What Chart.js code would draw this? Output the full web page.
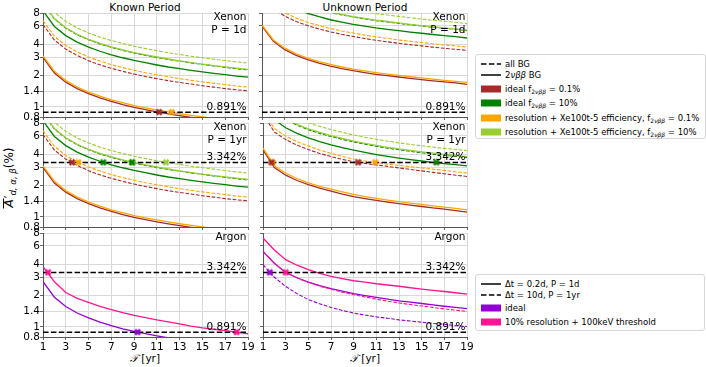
<!DOCTYPE html>
<html>
<head>
<meta charset="utf-8">
<script src="https://cdn.jsdelivr.net/npm/chart.js@4.4.1/dist/chart.umd.min.js"></script>
<style>
  body { margin: 0; width: 706px; height: 367px; position: relative; overflow: hidden; background: #fff;
         font-family: 'DejaVu Sans', sans-serif; color: #000; }
  canvas { position: absolute; }
  .txt { position: absolute; font-size: 10.5px; white-space: nowrap; line-height: 1; }
  .legend { position: absolute; background: #fff; border: 1px solid #d6d6d6; border-radius: 3px; font-size: 8.5px; }
  .legend .row { position: absolute; left: 0; height: 12px; white-space: nowrap; }
  .legend .row svg { position: absolute; left: 4px; top: 2px; }
  .legend .row span { position: absolute; left: 29px; top: 0; line-height: 12px; }
  .legend sub { font-size: 6px; vertical-align: -2px; line-height: 0; }
  .ylab { position: absolute; font-size: 12px; white-space: nowrap; transform: translate(-50%, -50%) rotate(-90deg);
          left: 10px; top: 178px; }
  .ylab sub { font-size: 8.5px; font-style: italic; vertical-align: -3px; }
  .ov { font-style: italic; display: inline-block; border-top: 1px solid #000; line-height: 11px; padding: 0 1px; }
</style>
</head>
<body>

<div class="txt" style="left:145px; top:2px; transform:translateX(-50%)">Known Period</div>
<div class="txt" style="left:365px; top:2px; transform:translateX(-50%)">Unknown Period</div>
<div class="ylab"><span class="ov">A</span>′<sub>d, α, β</sub>(%)</div>
<div class="txt" style="left:145px; top:353px; transform:translateX(-50%)"><span style="font-family:'DejaVu Serif',serif;font-style:italic">𝒯</span> [yr]</div>
<div class="txt" style="left:365px; top:353px; transform:translateX(-50%)"><span style="font-family:'DejaVu Serif',serif;font-style:italic">𝒯</span> [yr]</div>

<div class="legend" style="left:475px; top:54px; width:229px; height:83px">
  <div class="row" style="top:3px"><svg width="22" height="8"><line x1="1" y1="4" x2="21" y2="4" stroke="#000" stroke-width="1.5" stroke-dasharray="5.5,2.4"/></svg><span>all BG</span></div>
  <div class="row" style="top:14px"><svg width="22" height="8"><line x1="1" y1="4" x2="21" y2="4" stroke="#000" stroke-width="1.5"/></svg><span>2<i>νββ</i> BG</span></div>
  <div class="row" style="top:28px"><svg width="22" height="8"><rect x="1" y="0.5" width="20" height="7" fill="#a52a2a"/></svg><span>ideal f<sub>2<i>νββ</i></sub> = 0.1%</span></div>
  <div class="row" style="top:42px"><svg width="22" height="8"><rect x="1" y="0.5" width="20" height="7" fill="#008000"/></svg><span>ideal f<sub>2<i>νββ</i></sub> = 10%</span></div>
  <div class="row" style="top:57px"><svg width="22" height="8"><rect x="1" y="0.5" width="20" height="7" fill="#ffa500"/></svg><span>resolution + Xe100t-5 efficiency, f<sub>2<i>νββ</i></sub> = 0.1%</span></div>
  <div class="row" style="top:71px"><svg width="22" height="8"><rect x="1" y="0.5" width="20" height="7" fill="#9acd32"/></svg><span>resolution + Xe100t-5 efficiency, f<sub>2<i>νββ</i></sub> = 10%</span></div>
</div>

<div class="legend" style="left:475px; top:274px; width:228px; height:55px">
  <div class="row" style="top:3px"><svg width="22" height="8"><line x1="1" y1="4" x2="21" y2="4" stroke="#000" stroke-width="1.5"/></svg><span>Δt = 0.2d, P = 1d</span></div>
  <div class="row" style="top:14px"><svg width="22" height="8"><line x1="1" y1="4" x2="21" y2="4" stroke="#000" stroke-width="1.5" stroke-dasharray="5.5,2.4"/></svg><span>Δt = 10d, P = 1yr</span></div>
  <div class="row" style="top:27px"><svg width="22" height="8"><rect x="1" y="0.5" width="20" height="7" fill="#9400d3"/></svg><span>ideal</span></div>
  <div class="row" style="top:41px"><svg width="22" height="8"><rect x="1" y="0.5" width="20" height="7" fill="#ff1493"/></svg><span>10% resolution + 100keV threshold</span></div>
</div>

<script>
// exposure time T [yr] and axis ticks
const T = [1, 2, 3, 4, 5, 6, 7, 8, 9, 10, 11, 12, 13, 14, 15, 16, 17, 18, 19];
const xTicks = [1, 3, 5, 7, 9, 11, 13, 15, 17, 19];
const yTicks = [0.8, 1, 1.4, 2, 3, 4, 6, 8];
const limDay = 0.891;   // P = 1d
const limYear = 3.342;  // P = 1yr

// Xenon, known period (P = 1d and P = 1yr look the same)
const knRed2nbb    = [3.00, 2.12, 1.73, 1.50, 1.34, 1.22, 1.13, 1.05, 0.99, 0.94, 0.895, 0.857, 0.823, 0.794, 0.767, 0.743, 0.72, 0.70, 0.68];
const knOrange2nbb = [3.10, 2.20, 1.79, 1.55, 1.39, 1.27, 1.17, 1.10, 1.03, 0.98, 0.935, 0.895, 0.86, 0.83, 0.80, 0.775, 0.752, 0.73, 0.71];
const knRedAll     = [6.20, 4.40, 3.60, 3.12, 2.78, 2.54, 2.35, 2.20, 2.07, 1.96, 1.87, 1.79, 1.72, 1.66, 1.60, 1.55, 1.50, 1.46, 1.43];
const knOrangeAll  = [6.75, 4.78, 3.90, 3.38, 3.02, 2.76, 2.55, 2.39, 2.25, 2.13, 2.04, 1.95, 1.87, 1.80, 1.74, 1.69, 1.64, 1.59, 1.55];
const knGreen2nbb  = [8.40, 5.94, 4.85, 4.20, 3.76, 3.43, 3.17, 2.97, 2.80, 2.66, 2.53, 2.42, 2.33, 2.25, 2.17, 2.10, 2.04, 1.98, 1.93];
const knGreenAll   = [9.90, 7.00, 5.72, 4.95, 4.43, 4.04, 3.74, 3.50, 3.30, 3.13, 2.98, 2.86, 2.75, 2.65, 2.56, 2.48, 2.40, 2.33, 2.27];
const knLime2nbb   = [10.0, 7.07, 5.77, 5.00, 4.47, 4.08, 3.78, 3.54, 3.33, 3.16, 3.02, 2.89, 2.77, 2.67, 2.58, 2.50, 2.43, 2.36, 2.30];
const knLimeAll    = [11.5, 8.13, 6.64, 5.75, 5.14, 4.69, 4.35, 4.07, 3.83, 3.64, 3.47, 3.32, 3.19, 3.07, 2.97, 2.88, 2.79, 2.71, 2.64];

// Xenon, unknown period, P = 1d
const u1Red2nbb    = [5.96, 4.27, 3.55, 3.13, 2.85, 2.64, 2.47, 2.34, 2.23, 2.14, 2.06, 2.00, 1.94, 1.88, 1.83, 1.78, 1.74, 1.70, 1.65];
const u1Orange2nbb = [6.12, 4.40, 3.67, 3.24, 2.95, 2.73, 2.56, 2.42, 2.31, 2.22, 2.14, 2.07, 2.01, 1.95, 1.90, 1.85, 1.80, 1.76, 1.72];
const u1RedAll     = [11.7, 8.8, 7.46, 6.63, 6.05, 5.62, 5.27, 4.99, 4.76, 4.55, 4.38, 4.23, 4.09, 3.97, 3.86, 3.76, 3.66, 3.58, 3.50];
const u1OrangeAll  = [12.6, 9.5, 8.03, 7.14, 6.52, 6.05, 5.68, 5.37, 5.13, 4.90, 4.72, 4.56, 4.40, 4.28, 4.16, 4.05, 3.94, 3.86, 3.77];
const u1Green2nbb  = [16.6, 11.9, 9.9, 8.73, 7.95, 7.37, 6.89, 6.53, 6.22, 5.97, 5.75, 5.58, 5.41, 5.25, 5.11, 4.97, 4.85, 4.74, 4.60];
const u1GreenAll   = [19.5, 14.0, 11.6, 10.3, 9.35, 8.66, 8.10, 7.68, 7.31, 7.02, 6.76, 6.56, 6.36, 6.17, 6.00, 5.84, 5.71, 5.58, 5.41];
const u1Lime2nbb   = [19.7, 14.1, 11.7, 10.4, 9.44, 8.74, 8.18, 7.75, 7.38, 7.09, 6.83, 6.63, 6.42, 6.23, 6.06, 5.90, 5.76, 5.63, 5.47];
const u1LimeAll    = [22.8, 16.4, 13.6, 12.0, 10.9, 10.1, 9.46, 8.96, 8.54, 8.20, 7.89, 7.66, 7.43, 7.20, 7.01, 6.82, 6.66, 6.51, 6.32];

// Xenon, unknown period, P = 1yr
const u2Red2nbb    = [4.43, 2.98, 2.52, 2.24, 2.04, 1.89, 1.77, 1.66, 1.57, 1.50, 1.44, 1.39, 1.34, 1.30, 1.26, 1.22, 1.19, 1.15, 1.11];
const u2Orange2nbb = [4.60, 3.11, 2.63, 2.34, 2.13, 1.97, 1.85, 1.74, 1.65, 1.57, 1.51, 1.45, 1.40, 1.36, 1.32, 1.28, 1.24, 1.21, 1.17];
const u2RedAll     = [9.75, 6.56, 5.54, 4.90, 4.44, 4.08, 3.80, 3.58, 3.39, 3.27, 3.16, 3.06, 2.96, 2.86, 2.77, 2.68, 2.60, 2.52, 2.45];
const u2OrangeAll  = [10.5, 7.08, 5.98, 5.30, 4.80, 4.40, 4.08, 3.82, 3.60, 3.45, 3.32, 3.22, 3.13, 3.04, 2.96, 2.88, 2.80, 2.72, 2.64];
const u2Green2nbb  = [12.4, 8.6, 7.2, 6.35, 5.75, 5.30, 4.94, 4.64, 4.38, 4.17, 3.98, 3.82, 3.68, 3.56, 3.45, 3.35, 3.26, 3.18, 3.10];
const u2GreenAll   = [14.9, 10.3, 8.64, 7.62, 6.90, 6.36, 5.93, 5.57, 5.26, 5.00, 4.78, 4.58, 4.42, 4.27, 4.14, 4.02, 3.91, 3.82, 3.72];
const u2Lime2nbb   = [15.2, 10.5, 8.8, 7.77, 7.04, 6.49, 6.05, 5.68, 5.36, 5.10, 4.88, 4.67, 4.51, 4.36, 4.22, 4.10, 3.99, 3.90, 3.80];
const u2LimeAll    = [17.4, 12.0, 10.1, 8.9, 8.05, 7.42, 6.92, 6.50, 6.13, 5.84, 5.57, 5.35, 5.15, 4.98, 4.83, 4.69, 4.56, 4.45, 4.34];

// Argon
const arKnViolet    = [2.72, 1.93, 1.57, 1.36, 1.22, 1.11, 1.03, 0.96, 0.905, 0.86, 0.82, 0.785, 0.755, 0.727, 0.702, 0.68, 0.66, 0.64, 0.625];
const arKnPink      = [3.80, 2.72, 2.14, 1.88, 1.72, 1.58, 1.47, 1.37, 1.29, 1.23, 1.17, 1.12, 1.07, 1.02, 0.98, 0.95, 0.92, 0.89, 0.86];
const arUnPink1d    = [7.16, 5.5, 4.43, 3.92, 3.55, 3.28, 3.06, 2.91, 2.78, 2.69, 2.60, 2.53, 2.46, 2.38, 2.31, 2.25, 2.19, 2.13, 2.07];
const arUnViolet1d  = [5.3, 4.1, 3.34, 2.97, 2.70, 2.50, 2.34, 2.21, 2.09, 2.00, 1.92, 1.85, 1.78, 1.73, 1.68, 1.63, 1.58, 1.54, 1.50];
const arUnPink1yr   = [5.35, 4.1, 3.34, 2.96, 2.68, 2.47, 2.30, 2.16, 2.04, 1.94, 1.85, 1.77, 1.70, 1.64, 1.59, 1.54, 1.49, 1.45, 1.41];
const arUnViolet1yr = [3.97, 3.0, 2.45, 2.09, 1.83, 1.67, 1.54, 1.44, 1.36, 1.30, 1.25, 1.21, 1.17, 1.14, 1.11, 1.08, 1.06, 1.03, 1.01];

// where the curves reach the limit (T values)
const crossKn1d   = { red: [11.2], orange: [12.3] };
const crossKn1yr  = { red: [3.55], orange: [4.1], green: [6.3, 8.8], lime: [8.9, 11.8] };
const crossUn1yr  = { red: [1.75, 9.4], orange: [1.85, 10.9], green: [16.3] };
const crossArKnYr = { pink: [1.45] };
const crossArKnDay = { violet: [9.3], pink: [18.0] };
const crossArUnYr = { violet: [1.6], pink: [3.0] };

const col = { red: '#a52a2a', green: '#008000', orange: '#ffa500', lime: '#9acd32', violet: '#9400d3', pink: '#ff1493' };

Chart.defaults.font.family = "'DejaVu Sans', sans-serif";
Chart.defaults.font.size = 10.5;
Chart.defaults.color = '#000';

function xMarker(color) {
    const c = document.createElement('canvas');
    c.width = 8; c.height = 8;
    const g = c.getContext('2d');
    g.strokeStyle = color;
    g.lineWidth = 2.6;
    g.beginPath();
    g.moveTo(1.5, 1.5); g.lineTo(6.5, 6.5);
    g.moveTo(6.5, 1.5); g.lineTo(1.5, 6.5);
    g.stroke();
    return c;
}

function curve(vals, color, dashed, order) {
    return {
        type: 'line',
        data: T.map((t, i) => ({ x: t, y: vals[i] })),
        borderColor: color,
        borderWidth: dashed ? 1.1 : 1.3,
        borderDash: dashed ? [3.7, 1.6] : [],
        pointRadius: 0,
        tension: 0,
        fill: false,
        order: order,
    };
}

function limitLine(v) {
    return {
        type: 'line',
        data: [{ x: 1, y: v }, { x: 19, y: v }],
        borderColor: '#000',
        borderWidth: 1.5,
        borderDash: [5.5, 2.4],
        pointRadius: 0,
        order: 2,
    };
}

function crossings(obj, v) {
    return Object.keys(obj).map(k => ({
        type: 'scatter',
        data: obj[k].map(t => ({ x: t, y: v })),
        pointStyle: xMarker(col[k]),
        pointRadius: 3,
        order: 0,
    }));
}

// text inside each panel
const panelText = {
    id: 'panelText',
    afterDatasetsDraw(chart, args, opts) {
        const { ctx, chartArea: a } = chart;
        const y = chart.scales.y;
        ctx.save();
        ctx.font = "10.5px 'DejaVu Sans'";
        ctx.fillStyle = '#000';
        ctx.textAlign = 'right';
        ctx.textBaseline = 'middle';
        opts.title.forEach((s, i) => ctx.fillText(s, a.right - 1.5, a.top + 4.5 + i * 13));
        ctx.textBaseline = 'alphabetic';
        opts.limits.forEach(v => ctx.fillText(v.toFixed(3) + '%', a.right - 1.5, y.getPixelForValue(v) - 2));
        ctx.restore();
    }
};

function noPad(s) {
    s.paddingLeft = 0; s.paddingRight = 0; s.paddingTop = 0; s.paddingBottom = 0;
}

// one subplot: column 0/1, row 0/1/2
function panel(c, r, datasets, title, limits) {
    const plotLeft = c === 0 ? 43 : 262;
    const plotTop = [13, 123, 233][r];
    const yW = c === 0 ? 43 : 4;
    const xH = r === 2 ? 22 : 8;
    const canvas = document.createElement('canvas');
    canvas.width = yW + 205 + 8;
    canvas.height = 8 + 104 + xH;
    canvas.style.left = (plotLeft - yW) + 'px';
    canvas.style.top = (plotTop - 8) + 'px';
    document.body.appendChild(canvas);

    new Chart(canvas.getContext('2d'), {
        type: 'line',
        data: { datasets: datasets },
        options: {
            responsive: false,
            animation: false,
            devicePixelRatio: 1,
            layout: { padding: { top: 8, right: 8, left: 0, bottom: 0 } },
            plugins: {
                legend: { display: false },
                tooltip: { enabled: false },
                panelText: { title: title, limits: limits },
            },
            scales: {
                x: {
                    type: 'linear', min: 1, max: 19,
                    afterBuildTicks: s => { s.ticks = xTicks.map(v => ({ value: v })); },
                    afterFit: s => { s.height = xH; noPad(s); },
                    ticks: { display: r === 2, autoSkip: false, maxRotation: 0, padding: 1, callback: v => String(v) },
                    grid: { color: '#d9d9d9', tickLength: 3, tickColor: '#666' },
                    border: { color: '#555' },
                },
                y: {
                    type: 'logarithmic', min: 0.8, max: 8,
                    afterBuildTicks: s => { s.ticks = yTicks.map(v => ({ value: v })); },
                    afterFit: s => { s.width = yW; noPad(s); },
                    ticks: { display: c === 0, autoSkip: false, padding: 0, callback: v => String(v) },
                    grid: { color: '#d9d9d9', tickLength: 3, tickColor: '#666' },
                    border: { color: '#555' },
                },
            },
        },
        plugins: [panelText],
    });
}

function xenonSet(red2, redAll, orange2, orangeAll, green2, greenAll, lime2, limeAll) {
    return [
        curve(lime2, col.lime, false, 3), curve(limeAll, col.lime, true, 3),
        curve(orange2, col.orange, false, 4), curve(orangeAll, col.orange, true, 4),
        curve(green2, col.green, false, 5), curve(greenAll, col.green, true, 5),
        curve(red2, col.red, false, 6), curve(redAll, col.red, true, 6),
    ];
}

// Xenon P = 1d
panel(0, 0, [...crossings(crossKn1d, limDay), limitLine(limDay),
    ...xenonSet(knRed2nbb, knRedAll, knOrange2nbb, knOrangeAll, knGreen2nbb, knGreenAll, knLime2nbb, knLimeAll)],
    ['Xenon', 'P = 1d'], [limDay]);
panel(1, 0, [limitLine(limDay),
    ...xenonSet(u1Red2nbb, u1RedAll, u1Orange2nbb, u1OrangeAll, u1Green2nbb, u1GreenAll, u1Lime2nbb, u1LimeAll)],
    ['Xenon', 'P = 1d'], [limDay]);

// Xenon P = 1yr
panel(0, 1, [...crossings(crossKn1yr, limYear), limitLine(limYear),
    ...xenonSet(knRed2nbb, knRedAll, knOrange2nbb, knOrangeAll, knGreen2nbb, knGreenAll, knLime2nbb, knLimeAll)],
    ['Xenon', 'P = 1yr'], [limYear]);
panel(1, 1, [...crossings(crossUn1yr, limYear), limitLine(limYear),
    ...xenonSet(u2Red2nbb, u2RedAll, u2Orange2nbb, u2OrangeAll, u2Green2nbb, u2GreenAll, u2Lime2nbb, u2LimeAll)],
    ['Xenon', 'P = 1yr'], [limYear]);

// Argon
panel(0, 2, [...crossings(crossArKnYr, limYear), ...crossings(crossArKnDay, limDay),
    limitLine(limYear), limitLine(limDay),
    curve(arKnPink, col.pink, false, 3), curve(arKnViolet, col.violet, false, 4)],
    ['Argon'], [limYear, limDay]);
panel(1, 2, [...crossings(crossArUnYr, limYear), limitLine(limYear), limitLine(limDay),
    curve(arUnPink1d, col.pink, false, 3), curve(arUnPink1yr, col.pink, true, 3),
    curve(arUnViolet1d, col.violet, false, 4), curve(arUnViolet1yr, col.violet, true, 4)],
    ['Argon'], [limYear, limDay]);
</script>
</body>
</html>
